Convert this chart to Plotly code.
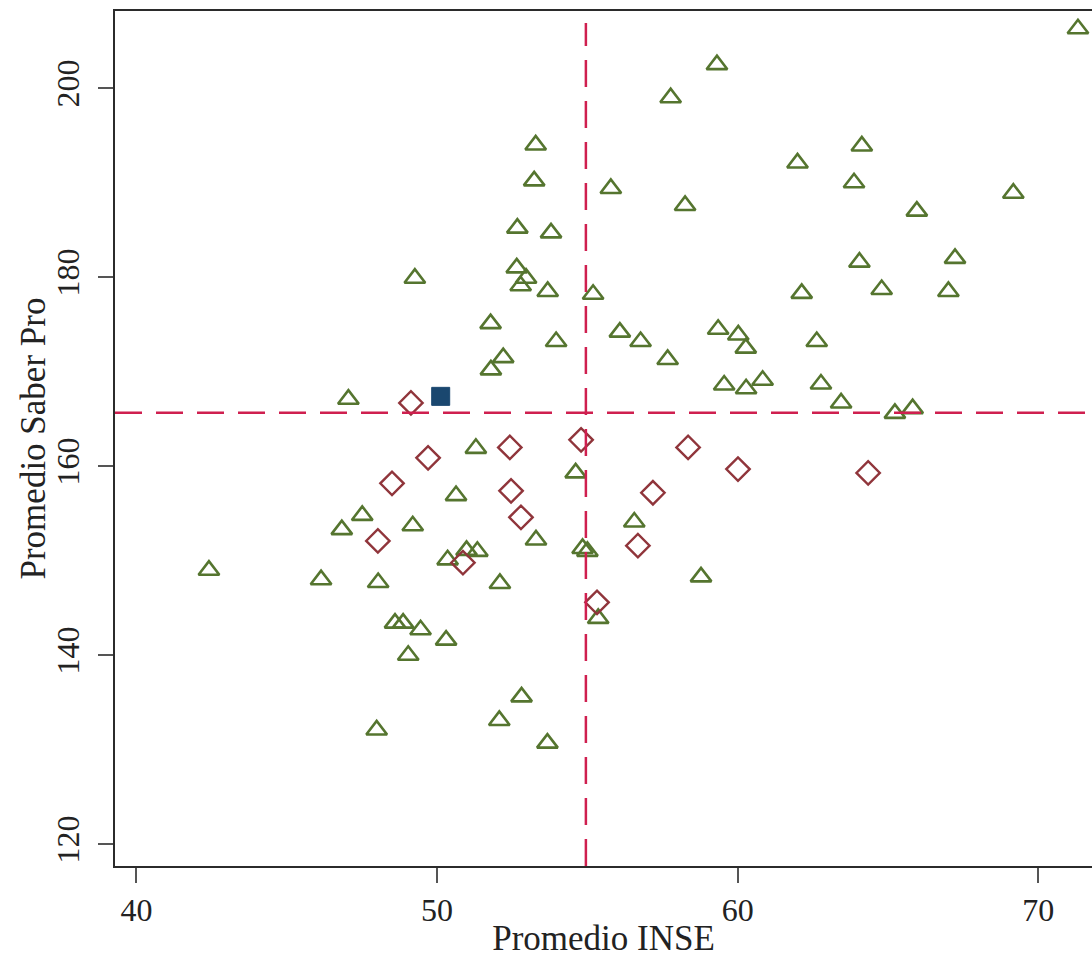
import plotly.graph_objects as go

# ---- data ----
tri_x = [71.32, 59.31, 57.77, 53.28, 64.13, 61.99, 53.23, 63.87, 55.78, 69.17,
         58.25, 65.96, 52.67, 53.79, 49.26, 52.65, 52.96, 52.78, 53.68, 67.23,
         64.05, 64.79, 67.01, 62.13, 55.19, 51.78, 59.35, 56.08, 60.02, 60.27,
         56.77, 53.96, 62.63, 57.67, 52.20, 51.79, 47.05, 59.55, 60.83, 60.28,
         62.77, 63.44, 65.23, 65.82, 51.29, 54.61, 47.51, 50.63, 46.83, 49.19,
         56.56, 53.29, 50.98, 51.34, 54.84, 55.00, 50.35, 42.41, 46.14, 48.04,
         52.09, 58.78, 48.60, 48.87, 49.45, 50.30, 49.04, 55.36, 52.81, 52.07,
         47.99, 53.67]
tri_y = [206.3, 202.5, 199.0, 194.0, 193.9, 192.1, 190.2, 190.0, 189.4, 188.9,
         187.6, 187.0, 185.2, 184.7, 179.9, 181.0, 179.9, 179.1, 178.5, 182.0,
         181.6, 178.7, 178.5, 178.3, 178.2, 175.1, 174.5, 174.2, 173.9, 172.5,
         173.2, 173.2, 173.2, 171.3, 171.5, 170.2, 167.1, 168.6, 169.1, 168.2,
         168.7, 166.7, 165.6, 166.1, 161.9, 159.3, 154.8, 156.9, 153.3, 153.7,
         154.1, 152.2, 151.1, 151.0, 151.3, 151.0, 150.1, 149.0, 148.0, 147.7,
         147.6, 148.3, 143.4, 143.4, 142.7, 141.6, 140.0, 143.9, 135.6, 133.1,
         132.1, 130.7]

dia_x = [49.13, 54.79, 52.42, 58.35, 49.70, 60.01, 64.34, 48.50, 52.46, 57.18,
         52.79, 48.03, 56.68, 50.86, 55.32]
dia_y = [166.7, 162.8, 162.0, 162.0, 160.9, 159.7, 159.3, 158.2, 157.4, 157.2,
         154.6, 152.1, 151.6, 149.8, 145.6]

sq_x = [50.12]
sq_y = [167.4]

inse_mean = 54.95
saber_mean = 165.67

x_ticks = [40, 50, 60, 70]
y_ticks = [120, 140, 160, 180, 200]
x_title = "Promedio INSE"
y_title = "Promedio Saber Pro"

x_range = [39.285, 71.787]
y_range = [117.70, 208.18]
vline_top = 206.9

GREEN = "#55752f"
MAROON = "#90353b"
NAVY = "#1a476f"
RED = "#cf1f4f"
FONT = "Liberation Serif"

fig = go.Figure()

fig.add_trace(go.Scatter(
    x=tri_x, y=tri_y, mode="markers",
    marker=dict(symbol="triangle-up-open", size=18, color=GREEN,
                line=dict(width=2.6, color=GREEN)),
    showlegend=False, cliponaxis=False))
fig.add_trace(go.Scatter(
    x=dia_x, y=dia_y, mode="markers",
    marker=dict(symbol="diamond-open", size=18, color=MAROON,
                line=dict(width=2.4, color=MAROON)),
    showlegend=False))
fig.add_trace(go.Scatter(
    x=sq_x, y=sq_y, mode="markers",
    marker=dict(symbol="square", size=18, color=NAVY,
                line=dict(width=1, color=NAVY)),
    showlegend=False))

# reference lines (means)
fig.add_shape(type="line", xref="x", yref="y",
              x0=inse_mean, x1=inse_mean, y0=y_range[0], y1=vline_top,
              line=dict(color=RED, width=2.5, dash="27px,14px"))
fig.add_shape(type="line", xref="paper", yref="y",
              x0=0, x1=1, y0=saber_mean, y1=saber_mean,
              line=dict(color=RED, width=2.5, dash="27px,14px"))

axis_common = dict(
    showgrid=False, zeroline=False,
    showline=True, linecolor="#2b2b2b", linewidth=2,
    ticks="outside", ticklen=15, tickwidth=2, tickcolor="#555555",
    tickfont=dict(family=FONT, size=32, color="#222222"),
)

fig.update_xaxes(
    range=x_range, tickvals=x_ticks, mirror=True,
    title=dict(text=x_title, font=dict(family=FONT, size=35, color="#222222"),
               standoff=6),
    **axis_common)
fig.update_yaxes(
    range=y_range, tickvals=y_ticks, tickangle=-90, ticklabelstandoff=6,
    **axis_common)

# y-axis title placed as a rotated annotation
fig.add_annotation(
    text=y_title, xref="paper", yref="paper", x=0, y=0.5,
    xshift=-82, xanchor="center", yanchor="middle", textangle=-90,
    showarrow=False, font=dict(family=FONT, size=35, color="#222222"))

fig.update_layout(
    width=1092, height=958,
    margin=dict(l=115, r=0, t=11, b=92, autoexpand=False),
    paper_bgcolor="white", plot_bgcolor="white",
)

fig.write_html("out.html",
               config={"displayModeBar": False},
               post_script="document.body.style.margin='0';"
                           "document.body.style.overflow='hidden';")
